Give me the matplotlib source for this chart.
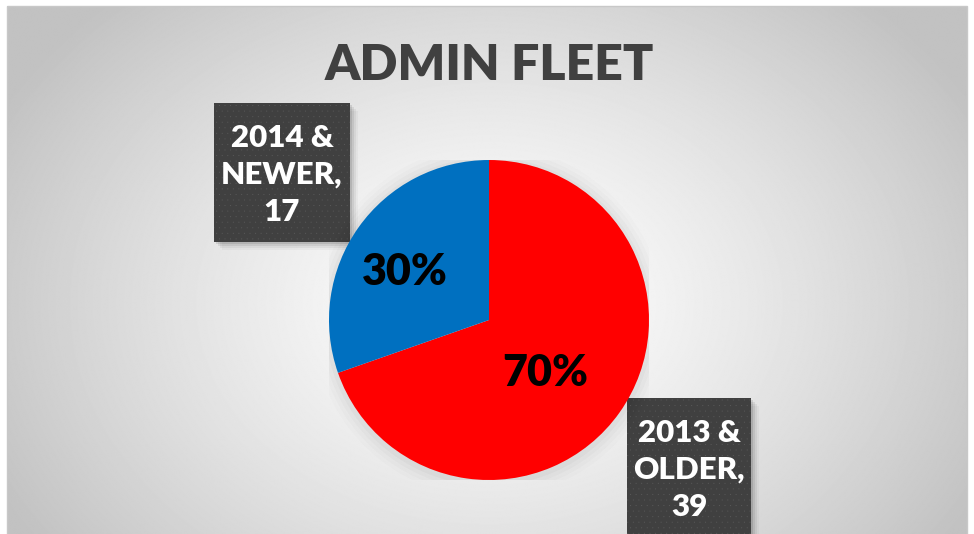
import numpy as np
import matplotlib
matplotlib.use("Agg")
import matplotlib.pyplot as plt
from matplotlib.patches import Rectangle

# data
categories = ["2013 & OLDER", "2014 & NEWER"]
counts = [39, 17]
colors = ["#ff0000", "#0070c0"]
title = "ADMIN FLEET"

plt.rcParams['font.family'] = ['Lato', 'DejaVu Sans']
plt.rcParams['hatch.linewidth'] = 0.0

W, H = 974, 534
fig = plt.figure(figsize=(W / 100, H / 100), dpi=100)
fig.patch.set_facecolor("white")

# background: radial gradient inside chart frame
bg = fig.add_axes([0, 0, 1, 1])
bg.set_xlim(0, W)
bg.set_ylim(H, 0)
bg.axis("off")
yy, xx = np.mgrid[0:H, 0:W]
r = np.sqrt(((xx - 489) / 560.0) ** 2 + ((yy - 300) / 420.0) ** 2)
shade = np.clip(1.0 - 0.24 * r ** 1.3, 0.76, 1.0)
bg.imshow(shade, cmap="gray", vmin=0, vmax=1, extent=(7, 967, H, 6),
          aspect="auto", zorder=0)
bg.add_patch(Rectangle((7, 6), 960, H, fill=False, ec="#c8c8c8", lw=1, zorder=1))

# title
fig.text(489 / W, 1 - 66 / H, title, ha="center", va="center",
         fontsize=36, fontweight="heavy", color="#404040")

# pie
ax = fig.add_axes([329 / W, (H - 480) / H, 320 / W, 320 / H])
ax.set_facecolor("none")
# soft glow behind the pie
for k, a in enumerate([0.025, 0.02, 0.015, 0.01]):
    ax.add_patch(plt.Circle((0.0, -0.01), 1.0 + 0.025 * (k + 1), color="#000000",
                            alpha=a, lw=0, zorder=0))
wedges, _ = ax.pie(counts, colors=colors, startangle=90, counterclock=False,
                   wedgeprops=dict(lw=0, zorder=2))
ax.set_xlim(-1, 1)
ax.set_ylim(-1, 1)
ax.set_aspect("equal")
ax.axis("off")

total = sum(counts)
pct_pos = {0: (545, 373), 1: (405, 272)}
for i, c in enumerate(counts):
    x, y = pct_pos[i]
    fig.text(x / W, 1 - y / H, f"{round(100 * c / total)}%", ha="center",
             va="center", fontsize=31, fontweight="heavy", color="black")

# label boxes
boxes = {1: (214, 103, 350, 242), 0: (627, 398, 751, 545)}
for i, name in enumerate(categories):
    x0, y0, x1, y1 = boxes[i]
    for k, a in enumerate([0.10, 0.07, 0.05, 0.03]):
        d = 2 + 2 * k
        bg.add_patch(Rectangle((x0 + d, y0 + d), x1 - x0, y1 - y0, fc="black",
                               alpha=a, lw=0, zorder=3))
    bg.add_patch(Rectangle((x0, y0), x1 - x0, y1 - y0, fc="#404040",
                           ec="#5a5a5a", lw=0, hatch="...", zorder=4))
    first, second = name.split(" & ")
    txt = f"{first} &\n{second},\n{counts[i]}"
    bg.text((x0 + x1) / 2, y0 + 72, txt, ha="center", va="center",
            fontsize=22.5, fontweight="heavy", color="white", linespacing=1.38,
            zorder=5)

fig.savefig("out.png", dpi=100)
